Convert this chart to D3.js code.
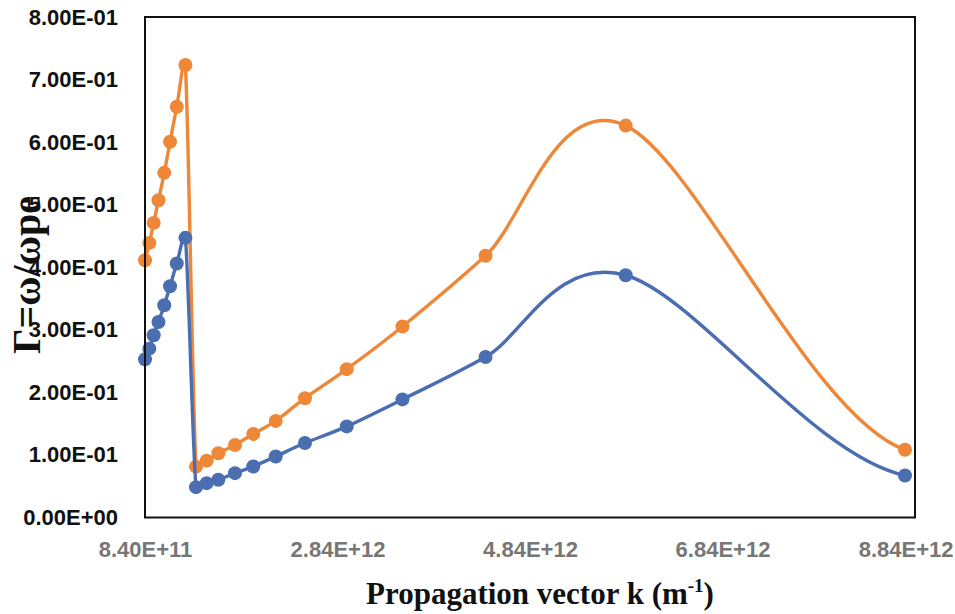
<!DOCTYPE html>
<html>
<head>
<meta charset="utf-8">
<script src="https://cdn.jsdelivr.net/npm/d3@7"></script>
<style>
  html, body { margin: 0; padding: 0; background: #ffffff; }
  svg { display: block; }
</style>
</head>
<body>
<svg id="chart" width="955" height="614"></svg>
<script>
// ---- data (k in units of 1e12 m^-1) ----
const kValues = [0.84, 0.885, 0.93, 0.98, 1.04, 1.10, 1.17, 1.26,
                 1.370, 1.481, 1.602, 1.775, 1.965, 2.198, 2.502, 2.936, 3.515, 4.378, 5.834, 8.736];
const seriesBlue = [0.2528, 0.2699, 0.2912, 0.3125, 0.3392, 0.3696, 0.4059, 0.4470,
                    0.0485, 0.0549, 0.0603, 0.0709, 0.0816, 0.0976, 0.1190, 0.1456, 0.1888, 0.2565, 0.3872, 0.0672];
const seriesOrange = [0.4112, 0.4389, 0.4709, 0.5072, 0.5509, 0.6005, 0.6565, 0.7232,
                      0.0813, 0.0909, 0.1027, 0.1160, 0.1336, 0.1544, 0.1907, 0.2371, 0.3053, 0.4184, 0.6264, 0.1083];
const yTickValues = [0, 0.1, 0.2, 0.3, 0.4, 0.5, 0.6, 0.7, 0.8];
const yTickLabels = ["0.00E+00", "1.00E-01", "2.00E-01", "3.00E-01", "4.00E-01",
                     "5.00E-01", "6.00E-01", "7.00E-01", "8.00E-01"];
const xTickValues = [0.84, 2.84, 4.84, 6.84, 8.84];
const xTickLabels = ["8.40E+11", "2.84E+12", "4.84E+12", "6.84E+12", "8.84E+12"];
const xTitle = "Propagation vector k (m";
const yTitle = "Γ=ω/ωpe";
const colors = { blue: "#4a6eb0", orange: "#ee8838" };

// ---- layout ----
const svg = d3.select("#chart");
const plot = { left: 145, right: 915, top: 17, bottom: 517.5 };

const x = d3.scaleLinear().domain([0.84, 8.84]).range([plot.left, plot.right]);
const y = d3.scaleLinear().domain([0, 0.8]).range([plot.bottom, plot.top]);

// y axis labels
const yAxis = d3.axisLeft(y).tickValues(yTickValues).tickSize(0).tickPadding(27)
  .tickFormat((d, i) => yTickLabels[i]);
const gy = svg.append("g").attr("transform", `translate(${plot.left},0)`).call(yAxis);
gy.select(".domain").remove();
gy.selectAll("text")
  .attr("font-family", "'Liberation Sans', Arial, sans-serif")
  .attr("font-weight", "bold").attr("font-size", 22).attr("fill", "#111");

// x axis labels
const xAxis = d3.axisBottom(x).tickValues(xTickValues).tickSize(0).tickPadding(24)
  .tickFormat((d, i) => xTickLabels[i]);
const gx = svg.append("g").attr("transform", `translate(0,${plot.bottom})`).call(xAxis);
gx.select(".domain").remove();
gx.selectAll("text")
  .attr("font-family", "'Liberation Sans', Arial, sans-serif")
  .attr("font-weight", "bold").attr("font-size", 22).attr("fill", "#767676");
gx.selectAll(".tick").filter((d, i) => i === xTickValues.length - 1)
  .select("text").attr("text-anchor", "end").attr("x", 953 - plot.right);

// Excel-like smoothed path (Catmull-Rom tangents with capped control arms)
function smoothPath(p, capRatio, endFlat) {
  const n = p.length;
  const T = p.map((pt, i) => {
    if (i === 0) return [p[1][0] - p[0][0], p[1][1] - p[0][1]];
    if (i === n - 1) return [p[n-1][0] - p[n-2][0], (p[n-1][1] - p[n-2][1]) * endFlat];
    return [(p[i+1][0] - p[i-1][0]) / 2, (p[i+1][1] - p[i-1][1]) / 2];
  });
  const path = d3.path();
  path.moveTo(p[0][0], p[0][1]);
  for (let i = 0; i < n - 1; i++) {
    const a = p[i], b = p[i+1];
    const seg = Math.hypot(b[0] - a[0], b[1] - a[1]);
    const cap = (v) => {
      const ax = v[0] / 3, ay = v[1] / 3, len = Math.hypot(ax, ay);
      const s = len > capRatio * seg ? capRatio * seg / len : 1;
      return [ax * s, ay * s];
    };
    const a1 = cap(T[i]), a2 = cap(T[i+1]);
    path.bezierCurveTo(a[0] + a1[0], a[1] + a1[1], b[0] - a2[0], b[1] - a2[1], b[0], b[1]);
  }
  return path.toString();
}

function drawSeries(vals, color) {
  const pts = kValues.map((k, i) => [x(k), y(vals[i])]);
  svg.append("path").attr("d", smoothPath(pts, 0.45, 0.3))
    .attr("fill", "none").attr("stroke", color).attr("stroke-width", 3.4)
    .attr("stroke-linejoin", "round");
  svg.append("g").selectAll("circle").data(pts).join("circle")
    .attr("cx", d => d[0]).attr("cy", d => d[1]).attr("r", 7)
    .attr("fill", color);
}
drawSeries(seriesOrange, colors.orange);
drawSeries(seriesBlue, colors.blue);

// frame
svg.append("rect")
  .attr("x", plot.left).attr("y", plot.top)
  .attr("width", plot.right - plot.left).attr("height", plot.bottom - plot.top)
  .attr("fill", "none").attr("stroke", "#111").attr("stroke-width", 2);

// x title
const xt = svg.append("text")
  .attr("x", 540).attr("y", 604).attr("text-anchor", "middle")
  .attr("font-family", "'Liberation Serif', 'Times New Roman', serif")
  .attr("font-weight", "bold").attr("font-size", 31).attr("fill", "#111");
xt.append("tspan").text(xTitle);
xt.append("tspan").attr("font-size", 19).attr("dy", -12).text("-1");
xt.append("tspan").attr("dy", 12).text(")");

// y title
svg.append("text")
  .attr("transform", "translate(40,275) rotate(-90)")
  .attr("text-anchor", "middle")
  .attr("font-family", "'Liberation Serif', 'Times New Roman', serif")
  .attr("font-weight", "bold").attr("font-size", 40).attr("fill", "#111")
  .text(yTitle);
</script>
</body>
</html>
